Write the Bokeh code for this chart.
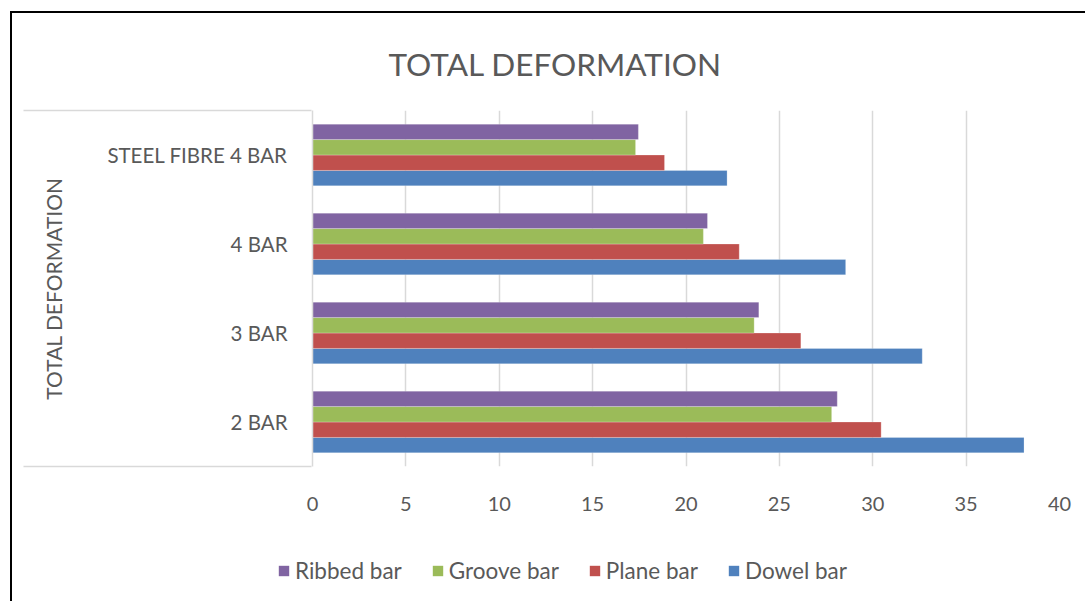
from bokeh.plotting import figure
from bokeh.layouts import column
from bokeh.models import (Range1d, FixedTicker, Legend, LegendItem,
                          LinearAxis, ColumnDataSource)
from bokeh.transform import dodge
from bokeh.embed import file_html
from bokeh.resources import INLINE

categories = ["2 BAR", "3 BAR", "4 BAR", "STEEL FIBRE 4 BAR"]
dowel_bar = [38.1, 32.65, 28.55, 22.2]
plane_bar = [30.45, 26.15, 22.85, 18.85]
groove_bar = [27.8, 23.65, 20.93, 17.3]
ribbed_bar = [28.1, 23.9, 21.15, 17.45]
x_ticks = [0, 5, 10, 15, 20, 25, 30, 35, 40]

series = [
    ("Dowel bar", "dowel", dowel_bar, "#4F81BD", -0.26),
    ("Plane bar", "plane", plane_bar, "#C0504D", -0.0867),
    ("Groove bar", "groove", groove_bar, "#9BBB59", 0.0867),
    ("Ribbed bar", "ribbed", ribbed_bar, "#8064A2", 0.26),
]
legend_order = ["Ribbed bar", "Groove bar", "Plane bar", "Dowel bar"]

# category slots (centres of equal bands) on a numeric axis
ypos = [i + 0.5 for i in range(len(categories))]

src = ColumnDataSource(dict(cat=categories, y=ypos, dowel=dowel_bar, plane=plane_bar,
                            groove=groove_bar, ribbed=ribbed_bar))

FONT = "Lato"
TXT = "#595959"
GRID = "#D9D9D9"

p = figure(width=1073, height=517,
           y_range=Range1d(0, len(categories)), x_range=Range1d(0, 40),
           output_backend="svg", toolbar_location=None,
           min_border_left=300, min_border_right=26,
           min_border_top=97, min_border_bottom=64)
p.frame_align = False

for name, col, vals, color, off in series:
    p.hbar(y=dodge("y", off), right=col, left=0,
           height=0.1733, source=src, fill_color=color,
           line_color="white", line_alpha=0.35, line_width=0.7)

# title
p.title.text = "TOTAL DEFORMATION"
p.title.text_font = FONT
p.title.text_font_size = "31.5px"
p.title.text_font_style = "normal"
p.title.text_color = TXT
p.title.align = "left"
p.title.offset = 76
p.title.standoff = 56

# x axis
p.xaxis.ticker = FixedTicker(ticks=x_ticks)
p.xaxis.axis_line_color = None
p.xaxis.major_tick_line_color = None
p.xaxis.minor_tick_line_color = None
p.xaxis.major_label_standoff = 24
p.xaxis.major_label_text_font = FONT
p.xaxis.major_label_text_font_size = "20px"
p.xaxis.major_label_text_color = TXT

# category axis
p.yaxis.ticker = FixedTicker(ticks=ypos)
p.yaxis.major_label_overrides = {y: c for y, c in zip(ypos, categories)}
p.yaxis.axis_line_color = GRID
p.yaxis.axis_line_width = 1.5
p.yaxis.major_tick_line_color = None
p.yaxis.minor_tick_line_color = None
p.yaxis.major_label_standoff = 19
p.yaxis.major_label_text_font = FONT
p.yaxis.major_label_text_font_size = "20.5px"
p.yaxis.major_label_text_color = TXT
p.yaxis.axis_label = "TOTAL DEFORMATION"
p.yaxis.axis_label_text_font = FONT
p.yaxis.axis_label_text_font_size = "21px"
p.yaxis.axis_label_text_font_style = "normal"
p.yaxis.axis_label_text_color = TXT
p.yaxis.axis_label_standoff = 38

# outer axis that only draws the two label-area lines (top and bottom)
edge_axis = LinearAxis(ticker=FixedTicker(ticks=[0, len(categories)]),
                       major_label_overrides={0: "", len(categories): ""},
                       axis_line_color=None, major_tick_line_color=GRID,
                       major_tick_line_width=1.5, minor_tick_line_color=None,
                       major_tick_out=15, major_tick_in=273,
                       major_label_standoff=0)
p.add_layout(edge_axis, "left")

# grid
p.xgrid.ticker = FixedTicker(ticks=x_ticks)
p.xgrid.grid_line_color = GRID
p.xgrid.grid_line_width = 1.5
p.ygrid.grid_line_color = None
p.outline_line_color = None

# legend strip below the chart (proxy renderers share the data, hidden)
q = figure(width=1073, height=71, x_range=Range1d(0, 1), y_range=Range1d(0, 1),
           output_backend="svg", toolbar_location=None,
           x_axis_location=None, y_axis_location=None, min_border=0)
q.frame_align = False
q.outline_line_color = None
q.xgrid.grid_line_color = None
q.ygrid.grid_line_color = None
info = {name: (col, color) for name, col, vals, color, off in series}
items = []
for name in legend_order:
    col, color = info[name]
    r = q.hbar(y="y", right=col, left=0, height=0.1, source=src,
               fill_color=color, line_color=None, visible=False)
    items.append(LegendItem(label=name, renderers=[r]))

legend = Legend(items=items, orientation="horizontal", location=(265, 17),
                label_text_font=FONT, label_text_font_size="22.5px",
                label_text_color=TXT, glyph_width=13, glyph_height=13,
                label_standoff=5, spacing=29, padding=0, margin=0,
                inactive_fill_alpha=0,
                border_line_color=None, background_fill_alpha=0)
q.add_layout(legend, "center")

layout = column(p, q, margin=(11, 0, 0, 10),
                styles={"border-left": "2px solid #000", "border-top": "2px solid #000"})

open("out.html", "w").write(file_html(layout, INLINE))
